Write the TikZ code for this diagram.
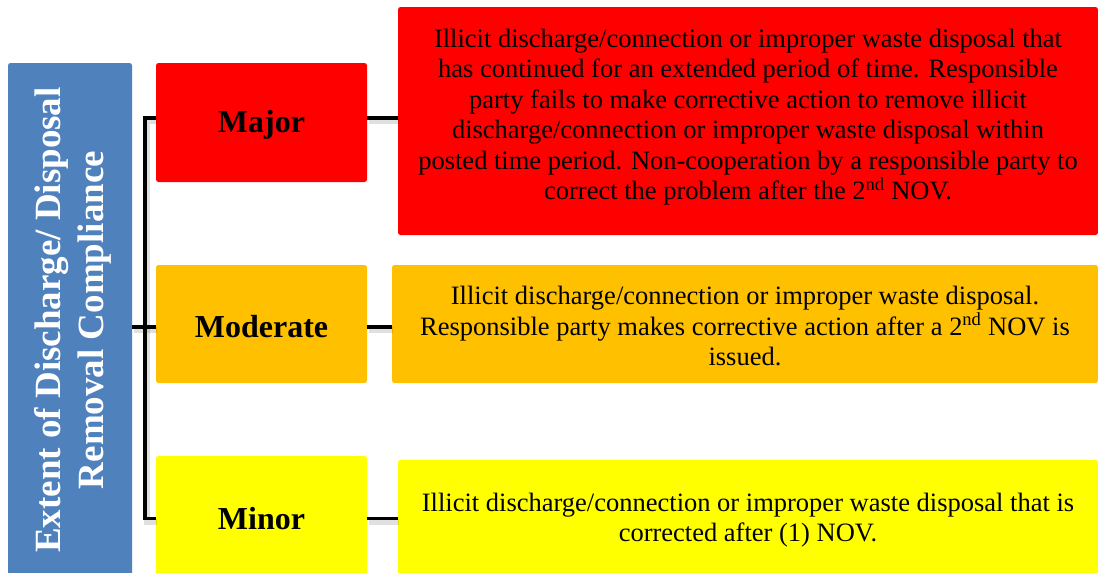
\documentclass[tikz,border=0pt]{standalone}
\usepackage{fontspec}
\setmainfont{Liberation Serif}
\definecolor{barblue}{HTML}{4F81BD}
\definecolor{majred}{HTML}{FF0000}
\definecolor{modorange}{HTML}{FFC000}
\definecolor{minyellow}{HTML}{FFFF00}
\tikzset{
  panel/.style={rectangle, rounded corners=2.5pt, inner sep=0pt, draw=none},
  levelbox/.style={panel, minimum width=211pt,
    font=\fontsize{32}{36}\selectfont\bfseries},
  descbox/.style={panel, align=center,
    font=\fontsize{26.5}{30.5}\selectfont},
  link/.style={line width=3.6pt, black},
  linkshadow/.style={line width=6pt, black, opacity=0.12,
    transform canvas={shift={(1.5pt,-3pt)}}}
}
\begin{document}
\begin{tikzpicture}[x=1pt, y=-1pt]
\useasboundingbox (0,0) rectangle (1098,573);
\clip (0,0) rectangle (1098,573);

% category bar
\node[panel, fill=barblue, minimum width=124pt, minimum height=522pt]
  (bar) at (70,324) {};
\node[rotate=90, align=center, text=white,
  font=\fontsize{37}{43}\selectfont\bfseries] (bartext) at (73,320)
  {Extent of Discharge/ Disposal\\Removal Compliance};

% severity levels
\node[levelbox, fill=majred, minimum height=119pt] (major) at (261.5,122.5) {};
\node[font=\fontsize{32}{36}\selectfont\bfseries] (majorlbl) at (261.5,125) {Major};
\node[levelbox, fill=modorange, minimum height=118pt] (moderate) at (261.5,324) {};
\node[font=\fontsize{32}{36}\selectfont\bfseries] (moderatelbl) at (261.5,327) {Moderate};
\node[levelbox, fill=minyellow, minimum height=126pt] (minor) at (261.5,519) {};
\node[font=\fontsize{32}{36}\selectfont\bfseries] (minorlbl) at (261.5,519) {Minor};

% descriptions
\node[descbox, fill=majred, minimum width=700pt, minimum height=228pt]
  (majordesc) at (748,121) {};
\node[align=center, font=\fontsize{26.5}{30.5}\selectfont] (majortext) at (748,117)
  {Illicit discharge/connection or improper waste disposal that\\
   has continued for an extended period of time. Responsible\\
   party fails to make corrective action to remove illicit\\
   discharge/connection or improper waste disposal within\\
   posted time period. Non-cooperation by a responsible party to\\
   correct the problem after the 2\textsuperscript{nd} NOV.};
\node[descbox, fill=modorange, minimum width=706pt, minimum height=118pt]
  (moderatedesc) at (745,324) {};
\node[align=center, font=\fontsize{26.5}{30.5}\selectfont] (moderatetext) at (745,326)
  {Illicit discharge/connection or improper waste disposal.\\
   Responsible party makes corrective action after a 2\textsuperscript{nd} NOV is\\
   issued.};
\node[descbox, fill=minyellow, minimum width=700pt, minimum height=125pt]
  (minordesc) at (748,522.5) {};
\node[align=center, font=\fontsize{26.5}{30.5}\selectfont] (minortext) at (748,520)
  {Illicit discharge/connection or improper waste disposal that is\\
   corrected after (1) NOV.};

% tree connectors
\coordinate (ttop) at (145,118);
\coordinate (tbot) at (145,518.5);
\coordinate (tmid) at (145,327);
\foreach \s in {linkshadow, link} {
  \draw[\s] (major.west |- ttop) -- (ttop) -- (tbot) -- (minor.west |- tbot);
  \draw[\s] (bar.east |- tmid) -- (moderate.west |- tmid);
  \draw[\s] (major.east |- ttop) -- (majordesc.west |- ttop);
  \draw[\s] (moderate.east |- tmid) -- (moderatedesc.west |- tmid);
  \draw[\s] (minor.east |- tbot) -- (minordesc.west |- tbot);
}
\end{tikzpicture}
\end{document}
